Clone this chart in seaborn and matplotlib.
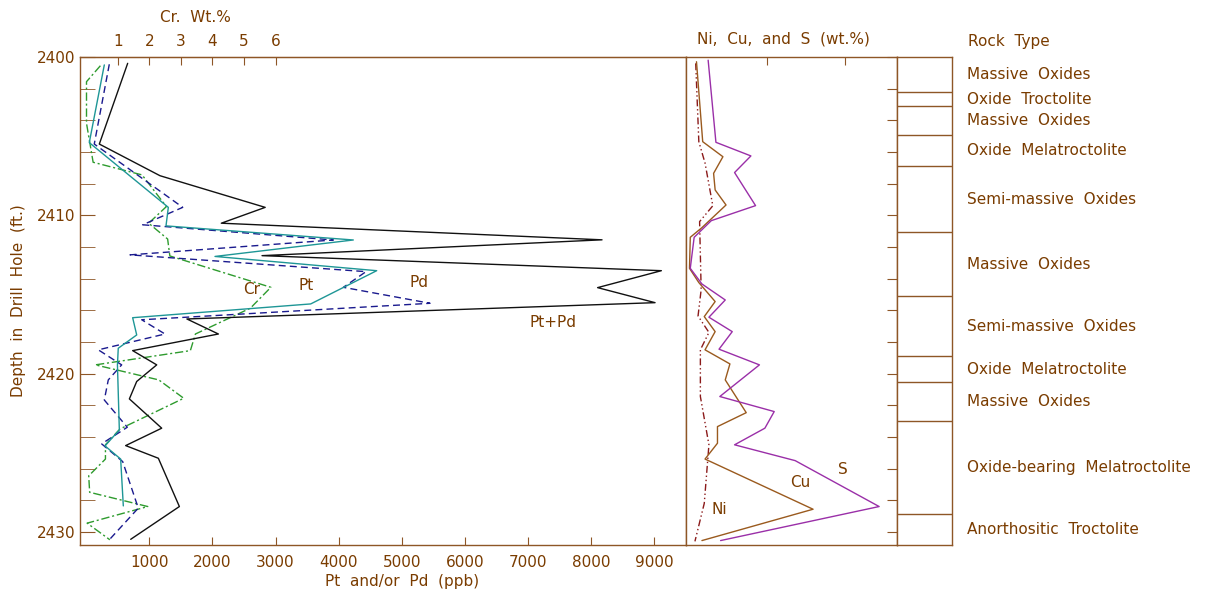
import matplotlib
matplotlib.use("Agg")
import matplotlib.pyplot as plt
import matplotlib.transforms as mtransforms
from matplotlib.ticker import MultipleLocator, FixedLocator, NullFormatter
import seaborn as sns

# ---------------- data ----------------
ptpd_depth = [2400.4, 2405.5, 2407.5, 2409.5, 2410.5, 2411.55, 2412.55, 2413.5, 2414.57, 2415.52,
              2416.55, 2417.5, 2418.55, 2419.45, 2420.5, 2421.6, 2423.45, 2424.55, 2425.35, 2428.4, 2430.47]
ptpd_vals = [657, 208, 1169, 2835, 2140, 8170, 2785, 9110, 8100, 9010,
             1595, 2094, 736, 1117, 800, 684, 1196, 625, 1143, 1476, 705]

pd_depth = [2400.46, 2405.5, 2409.5, 2410.6, 2411.56, 2412.5, 2413.56, 2414.55, 2415.56, 2416.6,
            2417.5, 2418.5, 2419.45, 2420.4, 2421.67, 2423.39, 2424.44, 2425.56, 2428.5, 2430.5]
pd_vals = [366, 128, 1529, 895, 3914, 694, 4432, 4073, 5446, 879,
           1248, 192, 562, 350, 287, 651, 245, 578, 825, 366]

pt_depth = [2400.5, 2405.41, 2409.5, 2410.67, 2411.56, 2412.6, 2413.5, 2415.6, 2416.47, 2417.56,
            2418.4, 2419.45, 2423.56, 2424.57, 2425.4, 2428.36]
pt_vals = [287, 49, 1301, 1264, 4231, 2040, 4601, 3556, 736, 800,
           508, 495, 525, 298, 546, 588]

cr_depth = [2400.55, 2401.56, 2404.19, 2406.65, 2407.45, 2409.45, 2410.5, 2411.5, 2412.57, 2414.55,
            2415.87, 2417.5, 2418.55, 2419.45, 2420.4, 2421.56, 2423.5, 2424.5, 2425.4, 2426.46,
            2427.5, 2428.4, 2429.45, 2430.5]
cr_vals = [0.45, 0.01, 0.01, 0.22, 1.77, 2.54, 1.98, 2.58, 2.65, 5.85,
           5.2, 3.46, 3.3, 0.29, 2.3, 3.09, 1.07, 0.61, 0.61, 0.08,
           0.11, 1.95, 0.03, 0.75]

s_depth = [2400.2, 2405.39, 2406.25, 2407.3, 2409.39, 2410.34, 2411.39, 2413.35, 2414.34, 2415.35,
           2416.44, 2417.35, 2418.46, 2419.45, 2421.45, 2422.4, 2423.45, 2424.5, 2425.5, 2428.4, 2430.55]
s_vals = [0.24, 0.34, 0.79, 0.58, 0.85, 0.28, 0.06, 0.01, 0.16, 0.46,
          0.25, 0.55, 0.38, 0.90, 0.39, 1.09, 0.97, 0.58, 1.36, 2.44, 0.40]

cu_depth = [2400.3, 2405.35, 2406.3, 2407.35, 2408.4, 2409.35, 2410.78, 2411.39, 2413.35, 2414.25,
            2415.45, 2416.4, 2417.35, 2418.5, 2419.39, 2420.4, 2422.47, 2423.35, 2424.4, 2425.4,
            2428.57, 2430.55]
cu_vals = [0.09, 0.17, 0.43, 0.31, 0.33, 0.47, 0.16, 0.01, 0.0, 0.12,
           0.33, 0.19, 0.33, 0.20, 0.52, 0.46, 0.73, 0.36, 0.36, 0.20,
           1.59, 0.16]

ni_depth = [2400.4, 2405.35, 2406.7, 2409.4, 2410.4, 2414.7, 2416.36, 2417.4, 2418.5, 2421.45,
            2424.5, 2428.2, 2430.6]
ni_vals = [0.08, 0.12, 0.20, 0.30, 0.13, 0.15, 0.11, 0.25, 0.14, 0.14,
           0.25, 0.19, 0.07]

rock_top = 2400.0
rock_bottom = 2430.83
rock_bounds = [2402.21, 2403.11, 2404.95, 2406.90, 2411.05, 2415.13, 2418.91, 2420.53, 2423.01, 2428.89]
rock_names = ["Massive Oxides", "Oxide Troctolite", "Massive Oxides", "Oxide Melatroctolite",
              "Semi-massive Oxides", "Massive Oxides", "Semi-massive Oxides", "Oxide Melatroctolite",
              "Massive Oxides", "Oxide-bearing Melatroctolite", "Anorthositic Troctolite"]

ppb_ticks = [1000, 2000, 3000, 4000, 5000, 6000, 7000, 8000, 9000]
cr_ticks = [1, 2, 3, 4, 5, 6]
depth_labels = [2400, 2410, 2420, 2430]

# ---------------- style ----------------
sns.set_style("white")
plt.rcParams["font.family"] = ["DejaVu Sans"]
TXT = "#7A3C00"
SP = "#8E5626"
FS = 11

fig = plt.figure(figsize=(12.16, 5.96), dpi=100)
W, H = 1216.0, 596.0


def rect(x0, x1, y0, y1):
    return [x0 / W, (H - y1) / H, (x1 - x0) / W, (y1 - y0) / H]


ax = fig.add_axes(rect(80, 686, 57, 545))
ax2 = fig.add_axes(rect(686, 897, 57, 545))
ax3 = fig.add_axes(rect(897, 952, 57, 545))

for a in (ax, ax2, ax3):
    a.set_ylim(rock_bottom, rock_top)
    for s in a.spines.values():
        s.set_color(SP)
        s.set_linewidth(1.0)
    a.set_facecolor("white")

# ---- left panel ----
def line(a, x, y, color, ls="-"):
    sns.lineplot(x=x, y=y, sort=False, estimator=None, ax=a, color=color,
                 linewidth=1.0, linestyle=ls)

line(ax, [v * 500 for v in cr_vals], cr_depth, "#2E9B2E", (0, (6, 2, 1.5, 2)))
line(ax, ptpd_vals, ptpd_depth, "#111111")
line(ax, pd_vals, pd_depth, "#1A1A8E", (0, (5, 3)))
line(ax, pt_vals, pt_depth, "#1E9696")

ax.set_xlim(-98, 9500)
ax.set_xlabel("")
ax.set_ylabel("")
ax.xaxis.set_major_locator(FixedLocator(ppb_ticks))
ax.tick_params(axis="x", which="both", direction="in", length=6, color=SP,
               labelcolor=TXT, labelsize=FS, pad=7, bottom=True, top=False)
ax.yaxis.set_major_locator(FixedLocator(depth_labels))
ax.yaxis.set_minor_locator(MultipleLocator(2))
ax.tick_params(axis="y", which="both", direction="in", length=11, color=SP,
               labelcolor=TXT, labelsize=FS, pad=3, left=True, right=False)
ax.yaxis.set_minor_formatter(NullFormatter())

sec = ax.secondary_xaxis("top", functions=(lambda x: x / 500.0, lambda x: x * 500.0))
sec.xaxis.set_major_locator(FixedLocator(cr_ticks))
sec.tick_params(axis="x", direction="in", length=6, color=SP, labelcolor=TXT,
                labelsize=FS, pad=5.5)
sec.spines["top"].set_color(SP)

ax.text(0.191, 1.0805, "Cr.  Wt.%", transform=ax.transAxes, ha="center", va="center",
        color=TXT, fontsize=FS)
ax.text(0.531, -0.075, "Pt  and/or  Pd  (ppb)", transform=ax.transAxes, ha="center",
        va="center", color=TXT, fontsize=FS)
ax.text(-0.102, 0.5, "Depth  in  Drill  Hole  (ft.)", transform=ax.transAxes, ha="center",
        va="center", rotation=90, color=TXT, fontsize=FS)

ax.text(2626, 2414.72, "Cr", ha="center", va="center", color=TXT, fontsize=FS)
ax.text(3482, 2414.46, "Pt", ha="center", va="center", color=TXT, fontsize=FS)
ax.text(5272, 2414.27, "Pd", ha="center", va="center", color=TXT, fontsize=FS)
ax.text(7395, 2416.8, "Pt+Pd", ha="center", va="center", color=TXT, fontsize=FS)

# ---- right panel ----
line(ax2, ni_vals, ni_depth, "#8B1A1A", (0, (5, 2, 1, 2, 1, 2)))
line(ax2, cu_vals, cu_depth, "#9A5A1E")
line(ax2, s_vals, s_depth, "#9A2FA8")
ax2.set_xlim(-0.045, 2.67)
ax2.set_xlabel("")
ax2.set_ylabel("")
ax2.xaxis.set_major_locator(FixedLocator([1, 2]))
ax2.xaxis.set_major_formatter(NullFormatter())
ax2.tick_params(axis="x", direction="in", length=6, color=SP, top=True, bottom=False,
                labeltop=False, labelbottom=False)
ax2.yaxis.set_major_locator(MultipleLocator(2))
ax2.tick_params(axis="y", which="both", direction="in", length=7.5, color=SP, left=False,
                right=True, labelleft=False, labelright=False)
ax2.text(0.46, 1.0368, "Ni,  Cu,  and  S  (wt.%)", transform=ax2.transAxes, ha="center",
         va="center", color=TXT, fontsize=FS)
ax2.text(0.38, 2428.6, "Ni", ha="center", va="center", color=TXT, fontsize=FS)
ax2.text(1.42, 2426.9, "Cu", ha="center", va="center", color=TXT, fontsize=FS)
ax2.text(1.97, 2426.08, "S", ha="center", va="center", color=TXT, fontsize=FS)

# ---- rock type column ----
ax3.set_xlim(0, 1)
ax3.set_xticks([])
ax3.set_yticks([])
ax3.hlines(rock_bounds, 0, 1, color=SP, linewidth=1.0)
edges = [rock_top] + rock_bounds + [rock_bottom]
tr = mtransforms.blended_transform_factory(ax3.transAxes, ax3.transData)
for i, name in enumerate(rock_names):
    mid = 0.5 * (edges[i] + edges[i + 1])
    ax3.text(1.267, mid, name.replace(" ", "  "), transform=tr, ha="left", va="center",
             color=TXT, fontsize=FS)
ax3.text(1.30, 1.0327, "Rock  Type", transform=ax3.transAxes, ha="left", va="center",
         color=TXT, fontsize=FS)

fig.savefig("out.png", dpi=100, facecolor="white")
